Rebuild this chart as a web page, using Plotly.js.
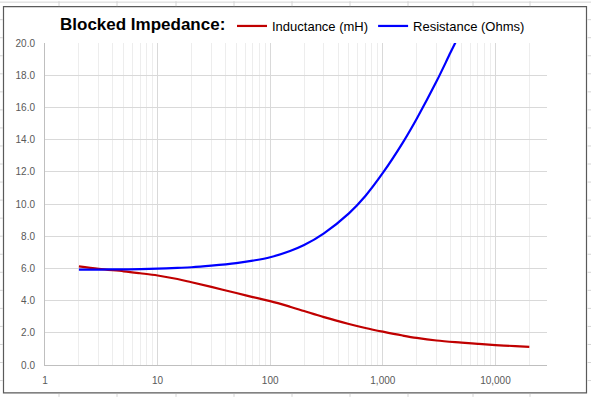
<!DOCTYPE html>
<html>
<head>
<meta charset="utf-8">
<script src="https://cdn.plot.ly/plotly-3.0.1.min.js"></script>
<style>
  html, body { margin: 0; padding: 0; background: #ffffff; }
  #chart { width: 591px; height: 397px; }
</style>
</head>
<body>
<div id="chart"></div>
<script>
// Frequencies (Hz)
const freqL = [2, 3, 5, 7, 10, 15, 20, 30, 50, 70, 100, 150, 200, 300, 500, 700, 1000, 1500, 2000, 3000, 5000, 7000, 10000, 15000, 20000];
// Inductance (mH)
const inductance = [6.13, 5.97, 5.82, 5.70, 5.56, 5.34, 5.14, 4.85, 4.47, 4.22, 3.97, 3.62, 3.35, 2.97, 2.55, 2.30, 2.07, 1.83, 1.68, 1.52, 1.39, 1.31, 1.24, 1.17, 1.13];

const freqR = [2, 3, 5, 7, 10, 15, 20, 30, 50, 70, 100, 150, 200, 300, 500, 700, 1000, 1500, 2000, 3000, 4000, 5000];
// Resistance (Ohms)
const resistance = [5.93, 5.93, 5.94, 5.95, 5.98, 6.03, 6.07, 6.17, 6.33, 6.48, 6.69, 7.08, 7.45, 8.18, 9.42, 10.50, 11.93, 13.80, 15.30, 17.62, 19.42, 20.80];

const xTickVals = [1, 10, 100, 1000, 10000];
const xTickText = ["1", "10", "100", "1,000", "10,000"];
const xMinorVals = [2,3,4,5,6,7,8,9,20,30,40,50,60,70,80,90,200,300,400,500,600,700,800,900,2000,3000,4000,5000,6000,7000,8000,9000,20000];

const W = 591, H = 397;
const M = {l: 45, r: 44, t: 42, b: 32};
const pw = W - M.l - M.r, ph = H - M.t - M.b;
const px = v => (v - M.l) / pw;
const py = v => (H - M.b - v) / ph;

const shapes = [];
// chart border (Excel chart area)
shapes.push({type: 'rect', xref: 'paper', yref: 'paper', x0: px(3.5), x1: px(586.5), y0: py(393), y1: py(5.5),
  line: {color: '#5a5a5a', width: 1.2}, fillcolor: 'rgba(0,0,0,0)', layer: 'below'});
// spreadsheet cell lines peeking outside chart
const colX = [59, 117, 176, 234, 292, 350, 408, 473, 530];
colX.forEach(x => {
  shapes.push({type: 'line', xref: 'paper', yref: 'paper', x0: px(x), x1: px(x), y0: py(0), y1: py(5), line: {color: '#d4d4d4', width: 1}});
  shapes.push({type: 'line', xref: 'paper', yref: 'paper', x0: px(x), x1: px(x), y0: py(394), y1: py(397), line: {color: '#d4d4d4', width: 1}});
});
for (let k = 1; k < 22; k++) {
  const y = 0.5 + 18.1 * k;
  if (y > 396) break;
  shapes.push({type: 'line', xref: 'paper', yref: 'paper', x0: px(587.5), x1: px(591), y0: py(y), y1: py(y), line: {color: '#d4d4d4', width: 1}});
  shapes.push({type: 'line', xref: 'paper', yref: 'paper', x0: px(0), x1: px(3), y0: py(y), y1: py(y), line: {color: '#d4d4d4', width: 1}});
}
shapes.push({type: 'line', xref: 'paper', yref: 'paper', x0: px(0), x1: px(591), y0: py(1), y1: py(1), line: {color: '#d4d4d4', width: 1}});

const traces = [
  {x: freqL, y: inductance, name: 'Inductance (mH)', type: 'scatter', mode: 'lines',
   line: {color: '#C00000', width: 2.2, shape: 'spline', smoothing: 1.0}},
  {x: freqR, y: resistance, name: 'Resistance (Ohms)', type: 'scatter', mode: 'lines',
   line: {color: '#0000FF', width: 2.2, shape: 'spline', smoothing: 1.0}}
];

const tickFont = {family: 'Liberation Sans, Arial, sans-serif', size: 10, color: '#595959'};

const layout = {
  width: W, height: H,
  margin: M,
  paper_bgcolor: '#ffffff', plot_bgcolor: '#ffffff',
  showlegend: true,
  title: {text: 'Blocked Impedance:', x: 60 / W, xanchor: 'left', xref: 'container',
          y: 1 - 24 / H, yanchor: 'middle', yref: 'container',
          font: {family: 'Liberation Sans, Arial, sans-serif', size: 17, color: '#000000', weight: 'bold'}},
  legend: {orientation: 'h', x: px(232), xanchor: 'left', y: py(26), yanchor: 'middle',
           font: {family: 'Liberation Sans, Arial, sans-serif', size: 13, color: '#000000'},
           bgcolor: 'rgba(0,0,0,0)', itemwidth: 30, tracegroupgap: 0},
  xaxis: {type: 'log', range: [0, 4.458], tickmode: 'array', tickvals: xTickVals, ticktext: xTickText,
          showgrid: true, gridcolor: '#D9D9D9', gridwidth: 1,
          minor: {tickmode: 'array', tickvals: xMinorVals, showgrid: true, gridcolor: '#EDEDED', gridwidth: 1, ticks: ''},
          showline: true, linecolor: '#BFBFBF', linewidth: 1, ticks: '', zeroline: false,
          tickfont: tickFont, ticklabelstandoff: 6, fixedrange: true},
  yaxis: {range: [0, 20], tickmode: 'linear', tick0: 0, dtick: 2, tickformat: '.1f',
          showgrid: true, gridcolor: '#D9D9D9', gridwidth: 1,
          showline: true, linecolor: '#BFBFBF', linewidth: 1, ticks: '', zeroline: false,
          tickfont: tickFont, ticklabelstandoff: 7, fixedrange: true},
  shapes: shapes
};

Plotly.newPlot('chart', traces, layout, {displayModeBar: false, staticPlot: true});
</script>
</body>
</html>
